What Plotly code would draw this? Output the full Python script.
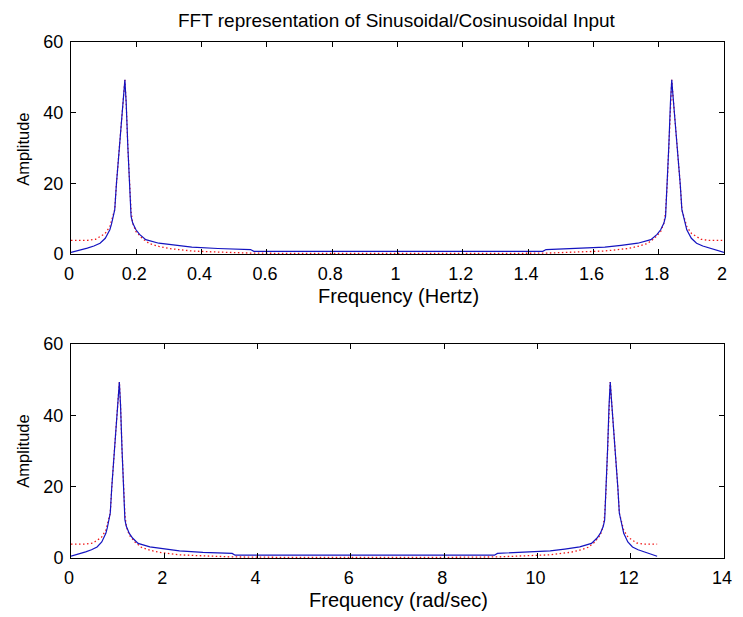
import numpy as np
import plotly.graph_objects as go

# ---- data ----
freq_hz_blue = [0.000, 0.025, 0.050, 0.070, 0.089, 0.105, 0.119, 0.124, 0.134, 0.139,
                0.144, 0.149, 0.157, 0.161, 0.165, 0.167, 0.169, 0.174, 0.179, 0.184,
                0.189, 0.199, 0.210, 0.229, 0.269, 0.320, 0.370, 0.450, 0.550, 0.560,
                0.700, 0.850, 1.000,
                1.155, 1.305, 1.445, 1.455, 1.555, 1.635, 1.685, 1.736, 1.776, 1.795,
                1.806, 1.816, 1.821, 1.826, 1.831, 1.836, 1.838, 1.840, 1.844, 1.848,
                1.856, 1.861, 1.866, 1.871, 1.881, 1.886, 1.900, 1.916, 1.935, 1.955,
                1.980, 2.000]
amp_blue = [0.5, 1.0, 1.7, 2.3, 3.1, 4.5, 6.9, 8.5, 12.6, 19.7,
            25.8, 32.5, 40.0, 44.5, 49.3, 46.0, 42.9, 30.6, 19.7, 10.7,
            8.8, 6.9, 5.6, 4.1, 3.1, 2.5, 2.0, 1.6, 1.3, 0.8,
            0.8, 0.75, 0.75,
            0.75, 0.8, 0.8, 1.3, 1.6, 2.0, 2.5, 3.1, 4.1, 5.6,
            6.9, 8.8, 10.7, 19.7, 30.6, 42.9, 46.0, 49.3, 44.5, 40.0,
            32.5, 25.8, 19.7, 12.6, 8.5, 6.9, 4.5, 3.1, 2.3, 1.7,
            1.0, 0.5]

freq_hz_red = [0.000, 0.050, 0.075, 0.104, 0.119, 0.134, 0.139, 0.144, 0.149, 0.157,
               0.161, 0.165, 0.167, 0.169, 0.174, 0.179, 0.184, 0.189, 0.199, 0.219,
               0.240, 0.269, 0.300, 0.330, 0.370, 0.420, 0.470, 0.550, 0.700, 1.000,
               1.305, 1.455, 1.535, 1.585, 1.635, 1.675, 1.705, 1.736, 1.765, 1.786,
               1.806, 1.816, 1.821, 1.826, 1.831, 1.836, 1.838, 1.840, 1.844, 1.848,
               1.856, 1.861, 1.866, 1.871, 1.886, 1.901, 1.930, 1.955, 2.000]
amp_red = [3.9, 3.9, 4.2, 5.8, 7.8, 12.6, 19.7, 25.8, 32.5, 40.0,
           44.5, 49.3, 46.0, 42.9, 30.6, 19.7, 12.0, 8.8, 6.4, 4.4,
           3.0, 2.2, 1.6, 1.3, 0.9, 0.7, 0.5, 0.3, 0.2, 0.15,
           0.2, 0.3, 0.5, 0.7, 0.9, 1.3, 1.6, 2.2, 3.0, 4.4,
           6.4, 8.8, 12.0, 19.7, 30.6, 42.9, 46.0, 49.3, 44.5, 40.0,
           32.5, 25.8, 19.7, 12.6, 7.8, 5.8, 4.2, 3.9, 3.9]

x_ticks_hz = [0, 0.2, 0.4, 0.6, 0.8, 1, 1.2, 1.4, 1.6, 1.8, 2]
x_tick_labels_hz = ["0", "0.2", "0.4", "0.6", "0.8", "1", "1.2", "1.4", "1.6", "1.8", "2"]
x_ticks_rad = [0, 2, 4, 6, 8, 10, 12, 14]
y_ticks = [0, 20, 40, 60]

# unit conversion Hz -> rad/sec for the lower panel
freq_rad_blue = [2 * np.pi * f for f in freq_hz_blue]
freq_rad_red = [2 * np.pi * f for f in freq_hz_red]

BLUE = "#1414c0"
RED = "#f01818"
FONT = "Liberation Sans"
TICK_FS = 18
LABEL_FS = 20
TITLE_FS = 19
YLABEL_FS = 16.5

fig = go.Figure()
for xa, ya, xr, xb in [("x", "y", freq_hz_red, freq_hz_blue),
                       ("x2", "y2", freq_rad_red, freq_rad_blue)]:
    fig.add_trace(go.Scatter(x=xr, y=amp_red, mode="lines",
                             line=dict(color=RED, width=1.3, dash="1.5px,2.5px"),
                             xaxis=xa, yaxis=ya, showlegend=False))
    fig.add_trace(go.Scatter(x=xb, y=amp_blue, mode="lines",
                             line=dict(color=BLUE, width=1.2),
                             xaxis=xa, yaxis=ya, showlegend=False))

axis_common = dict(showline=True, linecolor="black", linewidth=1, mirror="ticks",
                   ticks="inside", ticklen=5, tickcolor="black", showgrid=False,
                   zeroline=False, tickfont=dict(family=FONT, size=TICK_FS, color="black"))
x_extra = dict(ticklabelstandoff=3, ticklabelshift=-2)
y_extra = dict(ticklabelstandoff=3)

L, R, T, B = 70.7, 11.3, 42.0, 58.7
H = 617 - T - B  # plot area height


def py(p):
    return (617 - B - p) / H


def px(p):
    return (p - L) / (743 - L - R)


fig.update_layout(
    width=743, height=617,
    margin=dict(l=L, r=R, t=T, b=B, pad=0),
    paper_bgcolor="white", plot_bgcolor="white",
    xaxis=dict(domain=[0, 1], range=[0, 2], tickvals=x_ticks_hz, ticktext=x_tick_labels_hz,
               anchor="y", **axis_common, **x_extra),
    yaxis=dict(domain=[py(254.3), 1], range=[0, 60], tickvals=y_ticks, anchor="x",
               **axis_common, **y_extra),
    xaxis2=dict(domain=[0, 1], range=[0, 14], tickvals=x_ticks_rad, anchor="y2",
                **axis_common, **x_extra),
    yaxis2=dict(domain=[0, py(344)], range=[0, 60], tickvals=y_ticks, anchor="x2",
                **axis_common, **y_extra),
    annotations=[
        dict(text="FFT representation of Sinusoidal/Cosinusoidal Input", xref="paper", yref="paper",
             x=px(401), y=py(20), showarrow=False, xanchor="center", yanchor="middle",
             font=dict(family=FONT, size=TITLE_FS, color="black")),
        dict(text="Frequency (Hertz)", xref="paper", yref="paper",
             x=px(402), y=py(296), showarrow=False, xanchor="center", yanchor="middle",
             font=dict(family=FONT, size=LABEL_FS, color="black")),
        dict(text="Frequency (rad/sec)", xref="paper", yref="paper",
             x=px(402), y=py(600), showarrow=False, xanchor="center", yanchor="middle",
             font=dict(family=FONT, size=LABEL_FS, color="black")),
        dict(text="Amplitude", xref="paper", yref="paper", textangle=-90,
             x=px(22), y=py(149), showarrow=False, xanchor="center", yanchor="middle",
             font=dict(family=FONT, size=YLABEL_FS, color="black")),
        dict(text="Amplitude", xref="paper", yref="paper", textangle=-90,
             x=px(22), y=py(451), showarrow=False, xanchor="center", yanchor="middle",
             font=dict(family=FONT, size=YLABEL_FS, color="black")),
    ],
)

fig.write_html("out.html")
